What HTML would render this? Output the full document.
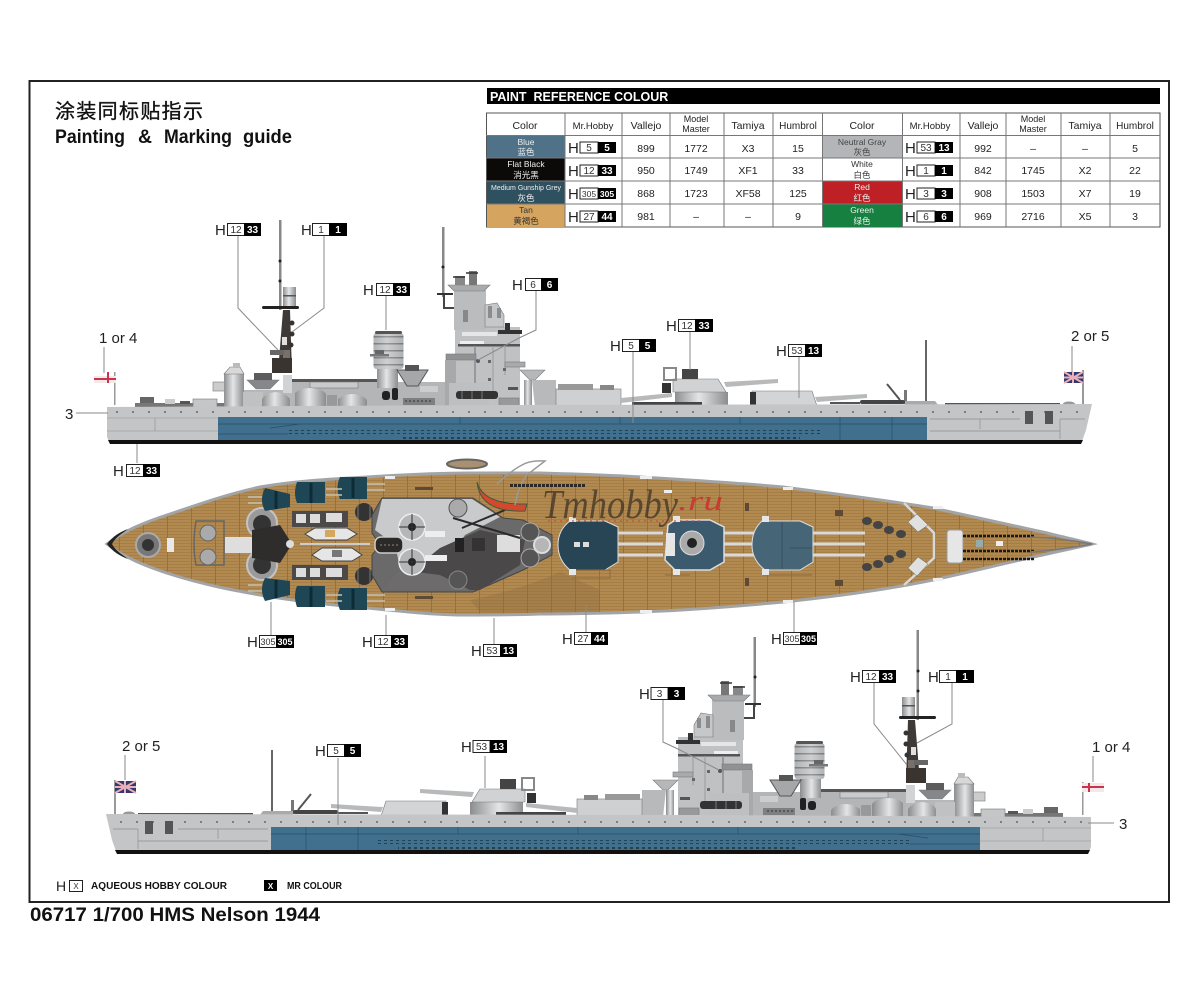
<!DOCTYPE html>
<html><head><meta charset="utf-8"><style>
html,body{margin:0;padding:0;background:#fff}
svg{display:block}
text{font-family:"Liberation Sans","Noto Sans CJK SC",sans-serif;fill:#111}
.h{font-size:15px;fill:#222}
.w{font-size:10px;fill:#333;text-anchor:middle}
.b{font-size:10px;fill:#fff;font-weight:bold;text-anchor:middle}
.c{font-size:10.5px;text-anchor:middle;fill:#222}
.s{font-size:9px;text-anchor:middle;fill:#222}
.t{font-size:8.5px;text-anchor:middle;fill:#eee}
.n{font-size:15px;fill:#222}
.l{stroke:#8a8a8a;stroke-width:1;fill:none}
.o{stroke:#77797b;stroke-width:.6}
</style></head><body>
<svg width="1200" height="982" viewBox="0 0 1200 982" xmlns="http://www.w3.org/2000/svg">
<defs>
<pattern id="plank" width="24" height="3" patternUnits="userSpaceOnUse"><rect width="24" height="3" fill="#b28a50"/><rect width="24" height="1" fill="#a57d47"/><rect x="23" width="1" height="3" fill="#927040"/></pattern>
<pattern id="port" width="6" height="4" patternUnits="userSpaceOnUse"><rect width="6" height="4" fill="#41708f"/><rect x="1" y="1" width="3" height="2" fill="#25404f"/></pattern>
<pattern id="dot" width="16" height="12" patternUnits="userSpaceOnUse"><circle cx="5" cy="4" r="1" fill="#666"/></pattern>
<pattern id="stripes" width="4" height="7" patternUnits="userSpaceOnUse"><rect width="4" height="7" fill="#c2c4c6"/><rect width="4" height="1.500" fill="#6c6f72"/></pattern>
<linearGradient id="cyl" x1="0" x2="1" y1="0" y2="0"><stop offset="0" stop-color="#8d8f91"/><stop offset=".45" stop-color="#e4e5e6"/><stop offset="1" stop-color="#8a8c8e"/></linearGradient>
<g id="ship">
  <!-- masts -->
  <rect x="279" y="220" width="2.500" height="90" fill="#888"/>
  <circle cx="280" cy="261" r="1.500" fill="#222"/><circle cx="280" cy="281" r="1.500" fill="#222"/>
  <rect x="442" y="227" width="2.500" height="70" fill="#888"/>
  <circle cx="443" cy="267" r="1.500" fill="#222"/>
  <rect x="925" y="340" width="2" height="62" fill="#666"/>
  <path d="M887,384L900,400" stroke="#555" stroke-width="2"/>
  <rect x="904" y="390" width="3" height="14" fill="#777"/>
  <rect x="437" y="293" width="16" height="2" fill="#333"/>
  <path d="M444,295V308H454" stroke="#444" stroke-width="2" fill="none"/>
  <!-- aft low deck -->
  <rect x="135" y="403" width="90" height="4" fill="#777"/>
  <rect x="140" y="397" width="14" height="6" fill="#666"/>
  <rect x="165" y="399" width="10" height="5" fill="#ccc"/>
  <rect x="180" y="401" width="10" height="3" fill="#555"/>
  <rect x="193" y="399" width="24" height="8" fill="#c4c6c8" class="o"/>
  <!-- base fill -->
  <rect x="226" y="390" width="230" height="17" fill="#b5b7b9"/>
  <rect x="213" y="382" width="12" height="9" fill="#ccc" class="o"/>
  <rect x="224" y="373" width="20" height="34" fill="url(#cyl)"/>
  <path d="M224,374L230,367H240L244,374Z" fill="#d8d8d8" class="o"/>
  <rect x="233" y="363" width="7" height="5" fill="#bbb"/>
  <path d="M247,380H279L270,389H256Z" fill="#85878a" class="o"/>
  <rect x="254" y="373" width="18" height="7" fill="#5c5c5c"/>
  <rect x="243" y="392" width="20" height="15" fill="#bfc1c3"/>
  <path d="M262,408V399Q265,393 276,392Q286,393 290,399V408Z" fill="url(#cyl)"/>
  <rect x="283" y="375" width="9" height="18" fill="#d2d3d4"/>
  <!-- tripod -->
  <path d="M278,372L283,310H290L292,372Z" fill="#3d3a38"/>
  <path d="M283,350H290V370H283Z" fill="#776f68"/>
  <rect x="270" y="350" width="14" height="5" fill="#666"/>
  <rect x="272" y="358" width="20" height="15" fill="#3a3431"/>
  <rect x="282" y="337" width="5" height="8" fill="#e0e0e0"/>
  <circle cx="292" cy="323" r="2.500" fill="#333"/><circle cx="292" cy="334" r="2.500" fill="#333"/><circle cx="291" cy="345" r="2.500" fill="#333"/>
  <rect x="283" y="287" width="13" height="19" fill="url(#cyl)"/>
  <rect x="283" y="295" width="13" height="1.500" fill="#555"/>
  <rect x="262" y="306" width="37" height="3" rx="1.500" fill="#222"/>
  <!-- main deck structures -->
  <rect x="292" y="382" width="170" height="25" fill="#b3b5b7"/>
  <rect x="292" y="379" width="90" height="3" fill="#555"/>
  <rect x="310" y="382" width="48" height="6" fill="#c9cacc" class="o"/>
  <path d="M295,408V393Q300,388 310,388Q322,388 326,394V408Z" fill="url(#cyl)"/>
  <path d="M338,408V399Q345,394 352,394Q362,394 367,400V408Z" fill="url(#cyl)"/>
  <rect x="327" y="395" width="10" height="12" fill="#97999b"/>
  <!-- funnel -->
  <rect x="377" y="368" width="21" height="20" fill="url(#cyl)"/>
  <rect x="373.500" y="333" width="30" height="36" rx="3" fill="url(#stripes)"/>
  <rect x="373.500" y="333" width="30" height="36" rx="3" fill="url(#cyl)" opacity=".35"/>
  <rect x="375" y="331" width="27" height="3" rx="1.500" fill="#555"/>
  <rect x="370" y="354" width="19" height="2.500" fill="#777"/>
  <rect x="375" y="350" width="9" height="4" fill="#666"/>
  <path d="M397,370H428L418,386H407Z" fill="#a5a7a9" stroke="#555"/>
  <rect x="405" y="365" width="14" height="6" fill="#555"/>
  <rect x="382" y="391" width="8" height="9" rx="3" fill="#222"/>
  <rect x="392" y="388" width="6" height="12" rx="2" fill="#222"/>
  <rect x="403" y="398" width="32" height="7" fill="#7d7f81"/>
  <path d="M405,401h28" stroke="#333" stroke-dasharray="2 2"/>
  <rect x="420" y="386" width="18" height="6" fill="#cdcdcd"/>
  <!-- tower -->
  <rect x="455" y="327" width="65" height="80" fill="#bfc1c3"/>
  <rect x="454" y="290" width="32" height="40" fill="#babcbe"/>
  <path d="M448,285H490L484,291H454Z" fill="#a8aaac" class="o"/>
  <rect x="455" y="276" width="10" height="9" fill="#888"/>
  <rect x="469" y="271" width="8" height="14" fill="#777"/>
  <path d="M453,277h12M466,273h12" stroke="#333" stroke-width="1.500"/>
  <path d="M485,327V305L497,303L504,315V327Z" fill="#c5c7c9" class="o"/>
  <path d="M488,306h4v12h-4zM497,308h4v10h-4z" fill="#8a8c8e"/>
  <rect x="498" y="330" width="24" height="4" fill="#333"/>
  <rect x="505" y="323" width="5" height="8" fill="#333"/>
  <rect x="462" y="332" width="35" height="4" fill="#e6e6e6"/>
  <rect x="460" y="341" width="24" height="3" fill="#eee"/>
  <rect x="458" y="344" width="62" height="2.500" fill="#555"/>
  <rect x="463" y="310" width="5" height="12" fill="#888"/>
  <rect x="474" y="346" width="2" height="60" fill="#999"/>
  <path d="M493,346V395M505,346V375" stroke="#9a9c9e" stroke-width="1"/>
  <g fill="#666"><rect x="508" y="362" width="2" height="2"/><rect x="513" y="362" width="2" height="2"/><rect x="488" y="360" width="3" height="3"/><rect x="488" y="378" width="3" height="3"/><rect x="503" y="368" width="3" height="3"/></g>
  <rect x="446" y="354" width="30" height="6" fill="#8f9193" class="o"/>
  <rect x="445" y="360" width="11" height="47" fill="#a7a9ab"/>
  <rect x="449" y="383" width="40" height="24" fill="#bdbfc1"/>
  <rect x="456" y="391" width="42" height="8" rx="3" fill="#333"/>
  <path d="M462,391v8M472,391v8M482,391v8" stroke="#777"/>
  <rect x="505" y="362" width="20" height="5" fill="#aaa" class="o"/>
  <path d="M520,370H545L535,380H530Z" fill="#b5b7b9" class="o"/>
  <rect x="524" y="380" width="8" height="27" fill="url(#cyl)"/>
  <path d="M532,380H556V407H535Z" fill="#b7b9bb"/>
  <rect x="508" y="387" width="10" height="3" fill="#555"/>
  <rect x="499" y="398" width="20" height="8" fill="#999" class="o"/>
  <circle cx="478" cy="361" r="2" fill="#556"/>
  <!-- X turret -->
  <rect x="556" y="389" width="65" height="18" fill="#ced0d2" class="o"/>
  <rect x="558" y="384" width="35" height="6" fill="#999"/>
  <rect x="600" y="385" width="14" height="5" fill="#888"/>
  <path d="M621,398L672,393V397L621,403Z" fill="#b7b9bb"/>
  <!-- A turret -->
  <rect x="675" y="392" width="53" height="15" fill="url(#cyl)"/>
  <path d="M673,379H718L726,392H673Z" fill="#d0d2d4" class="o"/>
  <rect x="662" y="383" width="9" height="10" fill="#333"/>
  <rect x="664" y="368" width="12" height="12" fill="none" stroke="#888" stroke-width="2"/>
  <rect x="682" y="369" width="16" height="10" fill="#444"/>
  <path d="M724,382L778,379V383L726,387Z" fill="#b7b9bb"/>
  <!-- B turret -->
  <path d="M752,391H812L817,406H752Z" fill="#d2d4d6" class="o"/>
  <rect x="750" y="392" width="6" height="13" fill="#333"/>
  <path d="M815,397L867,394V398L817,402Z" fill="#b7b9bb"/>
  <!-- fore deck -->
  <rect x="632" y="402" width="70" height="3" fill="#444"/>
  <rect x="830" y="402" width="30" height="2" fill="#555"/>
  <rect x="860" y="400" width="45" height="4" rx="2" fill="#444"/>
  <path d="M905,401H935L939,406H905Z" fill="#aaa"/>
  <rect x="945" y="403" width="115" height="2" fill="#555"/>
  <ellipse cx="1069" cy="404" rx="6" ry="2.500" fill="#999"/>
  <!-- hull -->
  <path d="M107,407L500,405L1092,404L1086,430L1081,444H110L107,437Z" fill="#c3c5c7"/>
  <rect x="109" y="405" width="975" height="12" fill="url(#dot)"/>
  <rect x="218" y="417" width="709" height="24" fill="#41708f"/>
  <rect x="288" y="430" width="535" height="4" fill="url(#port)"/>
  <rect x="400" y="436" width="400" height="4" fill="url(#port)"/>
  <path d="M218,424H927M218,434H288M460,417V424M620,417V424M740,417V424M840,417V440M892,417V440M270,428L300,424" stroke="#2b4d66" stroke-width=".7" fill="none"/>
  <path d="M107,418H218M155,418V431M107,431H218" stroke="#8d8f91" stroke-width=".6" fill="none"/>
  <path d="M930,419H1020M980,419V429M930,431H1060M1060,419H1085M1060,419V439" stroke="#8d8f91" stroke-width=".7" fill="none"/>
  <rect x="1025" y="411" width="8" height="13" fill="#555"/><rect x="1045" y="411" width="8" height="13" fill="#555"/>
  <path d="M108,440H1083L1081,444H110Z" fill="#111"/>
</g>
</defs>

<rect width="1200" height="982" fill="#fff"/>
<rect x="29.500" y="81" width="1139.500" height="821" fill="none" stroke="#222" stroke-width="2"/>

<text x="55" y="118" font-size="20" textLength="148" lengthAdjust="spacing" stroke="#111" stroke-width=".35">涂装同标贴指示</text>
<g font-weight="bold" font-size="19"><text x="55" y="143" textLength="70" lengthAdjust="spacingAndGlyphs">Painting</text><text x="138" y="143" textLength="14" lengthAdjust="spacingAndGlyphs">&amp;</text><text x="164" y="143" textLength="68" lengthAdjust="spacingAndGlyphs">Marking</text><text x="243" y="143" textLength="49" lengthAdjust="spacingAndGlyphs">guide</text></g>

<!-- table -->
<rect x="487" y="88" width="673" height="16" fill="#000"/>
<text x="490" y="101" font-size="12.500" font-weight="bold" style="fill:#fff" xml:space="preserve">PAINT  REFERENCE COLOUR</text>
<rect x="486.500" y="113" width="673.500" height="114" fill="#fff" stroke="#555"/>
<rect x="487" y="136" width="78" height="22" fill="#4f7288"/>
<rect x="487" y="158" width="78" height="23" fill="#0c0a08"/>
<rect x="487" y="181" width="78" height="23" fill="#2f505f"/>
<rect x="487" y="204" width="78" height="23" fill="#d5a560"/>
<rect x="822.500" y="136" width="80" height="22" fill="#b3b5b8"/>
<rect x="822.500" y="181" width="80" height="23" fill="#be2026"/>
<rect x="822.500" y="204" width="80" height="23" fill="#15803f"/>
<path d="M565,113V227M622,113V227M670,113V227M724,113V227M773,113V227M822.500,113V227M902.500,113V227M960,113V227M1006,113V227M1061,113V227M1110,113V227M486,135.500H1160M486,158H1160M486,181H1160M486,204H1160" stroke="#777" stroke-width="1" fill="none"/>
<text class="c" x="525" y="129">Color</text><text class="c" x="593" y="129" style="font-size:9.500px">Mr.Hobby</text><text class="c" x="646" y="129">Vallejo</text>
<text class="s" x="696" y="122">Model</text><text class="s" x="696" y="132">Master</text>
<text class="c" x="748" y="129">Tamiya</text><text class="c" x="798" y="129" style="font-size:10px">Humbrol</text>
<text class="c" x="862" y="129">Color</text><text class="c" x="930" y="129" style="font-size:9.500px">Mr.Hobby</text><text class="c" x="983" y="129">Vallejo</text>
<text class="s" x="1033" y="122">Model</text><text class="s" x="1033" y="132">Master</text>
<text class="c" x="1085" y="129">Tamiya</text><text class="c" x="1135" y="129" style="font-size:10px">Humbrol</text>
<text class="t" x="526" y="145">Blue</text><text class="t" x="526" y="155">蓝色</text>
<text class="t" x="526" y="167">Flat Black</text><text class="t" x="526" y="178">消光黑</text>
<text class="t" x="526" y="190" style="font-size:7px">Medium Gunship Grey</text><text class="t" x="526" y="201">灰色</text>
<text class="t" x="526" y="213" style="fill:#333">Tan</text><text class="t" x="526" y="224" style="fill:#333">黄褐色</text>
<text class="t" x="862" y="145" style="fill:#444">Neutral Gray</text><text class="t" x="862" y="155" style="fill:#444">灰色</text>
<text class="t" x="862" y="167" style="fill:#333">White</text><text class="t" x="862" y="178" style="fill:#333">白色</text>
<text class="t" x="862" y="190">Red</text><text class="t" x="862" y="201">红色</text>
<text class="t" x="862" y="213">Green</text><text class="t" x="862" y="224">绿色</text>

<g id="tc">
<text class="c" x="646" y="152">899</text><text class="c" x="696" y="152">1772</text><text class="c" x="748" y="152">X3</text><text class="c" x="798" y="152">15</text>
<text class="c" x="646" y="174">950</text><text class="c" x="696" y="174">1749</text><text class="c" x="748" y="174">XF1</text><text class="c" x="798" y="174">33</text>
<text class="c" x="646" y="197">868</text><text class="c" x="696" y="197">1723</text><text class="c" x="748" y="197">XF58</text><text class="c" x="798" y="197">125</text>
<text class="c" x="646" y="220">981</text><text class="c" x="696" y="220">–</text><text class="c" x="748" y="220">–</text><text class="c" x="798" y="220">9</text>
<text class="c" x="983" y="152">992</text><text class="c" x="1033" y="152">–</text><text class="c" x="1085" y="152">–</text><text class="c" x="1135" y="152">5</text>
<text class="c" x="983" y="174">842</text><text class="c" x="1033" y="174">1745</text><text class="c" x="1085" y="174">X2</text><text class="c" x="1135" y="174">22</text>
<text class="c" x="983" y="197">908</text><text class="c" x="1033" y="197">1503</text><text class="c" x="1085" y="197">X7</text><text class="c" x="1135" y="197">19</text>
<text class="c" x="983" y="220">969</text><text class="c" x="1033" y="220">2716</text><text class="c" x="1085" y="220">X5</text><text class="c" x="1135" y="220">3</text>
</g>
<!-- table paint codes -->
<text class="h" x="568" y="153">H</text><rect x="580" y="142" width="18" height="11" fill="#fff" stroke="#222"/><rect x="598" y="142" width="18" height="11" fill="#000"/><text class="w" x="589" y="151">5</text><text class="b" x="607" y="151">5</text>
<text class="h" x="568" y="176">H</text><rect x="580" y="165" width="18" height="11" fill="#fff" stroke="#222"/><rect x="598" y="165" width="18" height="11" fill="#000"/><text class="w" x="589" y="174">12</text><text class="b" x="607" y="174">33</text>
<text class="h" x="568" y="199">H</text><rect x="580" y="188" width="18" height="11" fill="#fff" stroke="#222"/><rect x="598" y="188" width="18" height="11" fill="#000"/><text class="w" x="589" y="197" style="font-size:8.500px">305</text><text class="b" x="607" y="197" style="font-size:8.500px">305</text>
<text class="h" x="568" y="222">H</text><rect x="580" y="211" width="18" height="11" fill="#fff" stroke="#222"/><rect x="598" y="211" width="18" height="11" fill="#000"/><text class="w" x="589" y="220">27</text><text class="b" x="607" y="220">44</text>
<text class="h" x="905" y="153">H</text><rect x="917" y="142" width="18" height="11" fill="#fff" stroke="#222"/><rect x="935" y="142" width="18" height="11" fill="#000"/><text class="w" x="926" y="151">53</text><text class="b" x="944" y="151">13</text>
<text class="h" x="905" y="176">H</text><rect x="917" y="165" width="18" height="11" fill="#fff" stroke="#222"/><rect x="935" y="165" width="18" height="11" fill="#000"/><text class="w" x="926" y="174">1</text><text class="b" x="944" y="174">1</text>
<text class="h" x="905" y="199">H</text><rect x="917" y="188" width="18" height="11" fill="#fff" stroke="#222"/><rect x="935" y="188" width="18" height="11" fill="#000"/><text class="w" x="926" y="197">3</text><text class="b" x="944" y="197">3</text>
<text class="h" x="905" y="222">H</text><rect x="917" y="211" width="18" height="11" fill="#fff" stroke="#222"/><rect x="935" y="211" width="18" height="11" fill="#000"/><text class="w" x="926" y="220">6</text><text class="b" x="944" y="220">6</text>

<!-- ships -->
<use href="#ship"/>
<use href="#ship" transform="matrix(-1 0 0 1 1198 410)"/>

<!-- flags -->
<rect x="114" y="372" width="1.500" height="33" fill="#999"/>
<path d="M94,376H116V383H94Z" fill="#f4e8e8"/><path d="M94,379H116M108,372V383" stroke="#c9344c" stroke-width="2"/>
<rect x="1082" y="370" width="2" height="34" fill="#999"/>
<rect x="1064" y="372" width="19" height="11" fill="#34386f"/><path d="M1064,372L1083,383M1083,372L1064,383M1073,372V383M1064,377.500H1083" stroke="#e8b0b8" stroke-width="2"/>
<rect x="114" y="780" width="2" height="34" fill="#999"/>
<rect x="115" y="781" width="21" height="12" fill="#34386f"/><path d="M115,781L136,793M136,781L115,793M125,781V793M115,787H136" stroke="#e8b0b8" stroke-width="2"/>
<rect x="1082" y="782" width="1.500" height="33" fill="#999"/>
<path d="M1082,783H1104V792H1082Z" fill="#f4e8e8"/><path d="M1082,787H1104M1089,783V792" stroke="#c9344c" stroke-width="2"/>

<!-- top view -->
<path id="hullt" d="M107,544C125,530 145,522 173,513C205,502 232,493 260,487C295,481 330,479 367,477C400,475 435,473 467,473C500,473 520,473 540,473C575,474 610,475 640,477C690,480 740,483 783,487C830,493 885,500 933,508C970,516 1010,525 1047,533C1062,537 1078,540 1092,544C1075,548 1060,551 1047,554C1010,562 970,572 933,580C885,590 830,597 783,602C730,607 690,610 640,612C610,613 575,614 540,614C515,615 490,615 467,615C430,615 400,611 367,608C330,605 295,601 260,595C232,590 205,585 173,575C145,566 125,558 107,544Z" fill="url(#plank)" stroke="#a2a4a6" stroke-width="3"/>
<path d="M107,544C113,536 120,532 128,529L124,532C118,536 114,540 112,544C114,548 118,552 124,556L128,559C120,556 113,552 107,544Z" fill="#222"/>
<ellipse cx="467" cy="464" rx="20" ry="4.500" fill="#a89070" stroke="#666" stroke-width="2"/>
<!-- stern -->
<circle cx="148" cy="545" r="12" fill="#777" stroke="#aaa" stroke-width="2"/><circle cx="148" cy="545" r="6" fill="#333"/>
<rect x="167" y="538" width="7" height="14" fill="#e8e8e8"/>
<path d="M196,521H224V565H196Q192,545 196,521Z" fill="none" stroke="#666" stroke-width="1.500"/>
<circle cx="208" cy="533" r="8" fill="#aaa" stroke="#666"/><circle cx="208" cy="557" r="8" fill="#aaa" stroke="#666"/>
<rect x="225" y="537" width="42" height="16" fill="#dedede"/>
<circle cx="262" cy="523" r="15" fill="#9a9a9a" stroke="#c4c4c4" stroke-width="2"/><circle cx="262" cy="565" r="15" fill="#9a9a9a" stroke="#c4c4c4" stroke-width="2"/>
<circle cx="262" cy="524" r="9" fill="#333"/><circle cx="262" cy="565" r="9" fill="#333"/>
<path d="M252,530L280,525L292,544L280,563L252,558Z" fill="#2f2d2c"/>
<circle cx="290" cy="544" r="4" fill="#ddd"/>
<!-- secondary turrets -->
<g fill="#1f4654">
<path d="M265,488L290,494V507L265,511Q259,500 265,488Z"/><path d="M297,482H325V503H297Q293,493 297,482Z"/><path d="M340,477H367V499H340Q335,488 340,477Z"/>
<path d="M265,578L290,581V595L265,601Q259,590 265,578Z"/><path d="M297,586H325V607H297Q293,596 297,586Z"/><path d="M340,588H367V610H340Q335,599 340,588Z"/>
</g>
<path d="M311,483v20M353,478v20M276,491v18M311,587v20M353,589v20M276,580v18" stroke="#0f2c36" stroke-width="3"/>
<path d="M248,497H262M248,503H262M326,489H342M326,495H342M367,484H385M367,490H385M248,585H262M248,591H262M326,595H342M326,601H342M367,595H385M367,601H385" stroke="#c8c0b0" stroke-width="1.500"/>
<!-- boats -->
<rect x="292" y="511" width="56" height="16" fill="#4c4a48"/><rect x="296" y="514" width="10" height="9" fill="#ddd"/><rect x="310" y="514" width="10" height="9" fill="#ddd"/><rect x="326" y="513" width="16" height="9" fill="#ddd"/>
<rect x="292" y="565" width="56" height="15" fill="#4c4a48"/><rect x="296" y="568" width="10" height="9" fill="#ddd"/><rect x="310" y="568" width="10" height="9" fill="#ddd"/><rect x="326" y="568" width="16" height="9" fill="#ddd"/>
<path d="M305,534L315,528H347L357,534L347,540H315Z" fill="#e6e6e6" stroke="#444"/><rect x="325" y="530" width="10" height="7" fill="#d2a860"/>
<path d="M312,555L322,548H352L362,555L352,561H322Z" fill="#e6e6e6" stroke="#444"/><rect x="332" y="550" width="10" height="7" fill="#777"/>
<rect x="300" y="543" width="70" height="2" fill="#ccc"/>
<circle cx="364" cy="512" r="9" fill="#333"/><circle cx="364" cy="576" r="9" fill="#333"/>
<path d="M358,505v14M370,505v14M358,569v14M370,569v14" stroke="#777"/>
<!-- central superstructure -->
<path d="M372,515L382,498H473L503,518L523,520L552,535V555L523,570L505,578L473,592H382L372,575V555L380,545L372,533Z" fill="#6b6a6a" stroke="#444"/>
<path d="M382,499H472L500,517L465,535L450,560L440,585L405,590L395,545L375,530Z" fill="#d4d5d7" opacity=".9"/>
<path d="M440,548L480,530L525,540L520,565L480,590H415L410,572Z" fill="#4a4848"/>
<path d="M382,590L400,570L440,575L470,590Z" fill="#6d6b6b"/>
<rect x="375" y="537" width="28" height="16" rx="6" fill="#2b2a29" stroke="#ccc" stroke-width="1.500"/>
<path d="M380,545h18" stroke="#888" stroke-dasharray="2 2"/>
<circle cx="412" cy="527" r="13" fill="#b5b6b8" stroke="#eee" stroke-width="1.500"/><circle cx="412" cy="527" r="4" fill="#222"/><path d="M399,527H425M412,514V540" stroke="#333"/>
<circle cx="412" cy="562" r="13" fill="#b5b6b8" stroke="#eee" stroke-width="1.500"/><circle cx="412" cy="562" r="4" fill="#222"/><path d="M399,562H425M412,549V575" stroke="#333"/>
<circle cx="458" cy="508" r="9" fill="#aaa" stroke="#555"/><circle cx="458" cy="580" r="9" fill="#555" stroke="#888"/>
<rect x="455" y="538" width="9" height="14" fill="#222"/><rect x="472" y="538" width="13" height="13" fill="#333"/>
<rect x="497" y="535" width="23" height="17" fill="#ddd"/>
<path d="M453,518L520,538M462,528L505,510" stroke="#2a2a2a" stroke-width="2"/>
<rect x="425" y="531" width="20" height="6" fill="#eee"/><rect x="425" y="555" width="22" height="6" fill="#eee"/>
<circle cx="530" cy="532" r="9" fill="#555" stroke="#aaa"/><circle cx="530" cy="558" r="9" fill="#555" stroke="#aaa"/>
<circle cx="542" cy="545" r="8" fill="#b5b6b8" stroke="#ddd" stroke-width="2"/>
<path d="M470,600Q520,590 560,572L600,590V612H480Z" fill="#8c6a3c" opacity=".35"/>
<!-- main turrets -->
<path d="M618,533H663M618,544H663M618,555H663M724,533H778M724,544H778M724,555H778M813,533H865M813,544H865M813,555H865" stroke="#d9d9d9" stroke-width="3"/>
<path d="M570,521H605L618,527V562L605,570H570Q558,560 558,545Q558,530 570,521Z" fill="#274554" stroke="#ddd" stroke-width="1"/>
<rect x="574" y="542" width="6" height="5" fill="#ddd"/><rect x="583" y="542" width="6" height="5" fill="#ddd"/>
<path d="M668,525L675,520H710L724,527V562L710,570H675L665,560Z" fill="#3b5a6d" stroke="#ddd" stroke-width="1.500"/>
<rect x="666" y="533" width="9" height="23" fill="#e6e6e6"/>
<circle cx="692" cy="543" r="12" fill="#aaa" stroke="#ddd"/><circle cx="692" cy="543" r="5" fill="#222"/>
<path d="M762,521H800L813,527V562L800,570H765Q752,560 752,545Q752,530 762,521Z" fill="#466678" stroke="#ddd" stroke-width="1"/>
<path d="M782,522V569M790,548L812,548" stroke="#35505f" stroke-width="1"/>
<path d="M572,570H610V578H572M763,575H812M665,575H690" stroke="#8c6a3c" stroke-width="1" fill="none"/>
<rect x="569" y="517" width="7" height="5" fill="#e6e6e6"/><rect x="673" y="516" width="7" height="6" fill="#e6e6e6"/><rect x="762" y="516" width="7" height="6" fill="#e6e6e6"/>
<rect x="569" y="569" width="7" height="6" fill="#e6e6e6"/><rect x="673" y="569" width="7" height="6" fill="#e6e6e6"/><rect x="762" y="569" width="7" height="6" fill="#e6e6e6"/>
<!-- forward fittings -->
<g fill="#444"><ellipse cx="867" cy="521" rx="5" ry="4"/><ellipse cx="878" cy="525" rx="5" ry="4"/><ellipse cx="889" cy="530" rx="5" ry="4"/><ellipse cx="901" cy="534" rx="5" ry="4"/><ellipse cx="867" cy="567" rx="5" ry="4"/><ellipse cx="878" cy="564" rx="5" ry="4"/><ellipse cx="889" cy="559" rx="5" ry="4"/><ellipse cx="901" cy="554" rx="5" ry="4"/></g>
<path d="M904,503L934,533V558L904,585" fill="none" stroke="#d8d8d8" stroke-width="2.500"/>
<path d="M917,514L928,525L918,532L908,522Z" fill="#e0e0e0" stroke="#666" stroke-width=".5"/>
<path d="M918,557L928,564L917,576L908,568Z" fill="#e0e0e0" stroke="#666" stroke-width=".5"/>
<rect x="947" y="530" width="16" height="33" rx="3" fill="#e6e6e6" stroke="#999"/>
<path d="M963,536H1035M963,551H1035M963,559H1035" stroke="#1c1a18" stroke-width="2.500" stroke-dasharray="3 1"/>
<rect x="976" y="540" width="7" height="7" fill="#9aa"/><rect x="996" y="541" width="7" height="5" fill="#eee"/>
<path d="M1030,537Q1060,538 1092,544Q1060,550 1030,552" fill="none" stroke="#777" stroke-width="1.500"/>
<g fill="#eee"><rect x="664" y="490" width="8" height="3"/><rect x="783" y="487" width="10" height="3"/><rect x="933" y="506" width="10" height="3"/><rect x="783" y="600" width="10" height="3"/><rect x="933" y="578" width="10" height="3"/><rect x="640" y="476" width="12" height="3"/><rect x="640" y="610" width="12" height="3"/><rect x="385" y="476" width="10" height="3"/><rect x="385" y="608" width="10" height="3"/></g>
<g fill="#5c4a34"><rect x="415" y="487" width="18" height="3"/><rect x="415" y="596" width="18" height="3"/><rect x="745" y="503" width="4" height="8"/><rect x="745" y="578" width="4" height="8"/><rect x="835" y="510" width="8" height="6"/><rect x="835" y="580" width="8" height="6"/></g>
<!-- watermark -->
<path d="M477,482Q483,505 527,504L525,511Q480,513 477,482Z" fill="#d5482e" stroke="#3a5c3a" stroke-width="1"/>
<path d="M497,484Q512,470 522,465Q530,460 545,461L532,471Q520,478 515,505" fill="none" stroke="#999" stroke-width="1.500"/>
<path d="M510,485.500H586" stroke="#2d2a26" stroke-width="3" stroke-dasharray="3 1"/>
<text x="542" y="518" font-size="41" font-style="italic" opacity=".72" style="font-family:'Liberation Serif',serif;fill:#3a3026" textLength="136" lengthAdjust="spacingAndGlyphs">Tmhobby</text>
<text x="678" y="510" font-size="29" font-style="italic" opacity=".85" style="font-family:'Liberation Serif',serif;fill:#cf2f2f" textLength="45" lengthAdjust="spacingAndGlyphs">.ru</text>
<path d="M548,521H700" stroke="#c8443a" stroke-width="1.500" stroke-dasharray="2 4" opacity=".7"/>

<!-- leaders -->
<path class="l" d="M238,235V308L278,350M324,236V308L292,332M386,296V330M536,291V330L519,338L478,360M633,352V423M690,332V370M799,357V398M1072,346V372M104,347V373M76,413H108M137,444V463M271,602V635M386,615V635M494,618V644M586,605V632M794,602V632M663,700V742L678,749L719,770M874,683V724L907,765M952,683V724L917,743M1093,756V782M1088,823H1114M338,758V825M485,756V788M125,755V780"/>

<!-- callouts -->
<text class="h" x="215" y="235">H</text><rect x="227.500" y="223.500" width="17" height="12" fill="#fff" stroke="#222"/><rect x="244" y="223" width="17" height="13" fill="#000"/><text class="w" x="236" y="233">12</text><text class="b" x="252.500" y="233">33</text>
<text class="h" x="301" y="235">H</text><rect x="312.500" y="223.500" width="17" height="12" fill="#fff" stroke="#222"/><rect x="329" y="223" width="18" height="13" fill="#000"/><text class="w" x="321" y="233">1</text><text class="b" x="338" y="233">1</text>
<text class="h" x="363" y="295">H</text><rect x="376.500" y="283.500" width="17" height="12" fill="#fff" stroke="#222"/><rect x="393" y="283" width="17" height="13" fill="#000"/><text class="w" x="385" y="293">12</text><text class="b" x="401.500" y="293">33</text>
<text class="h" x="512" y="290">H</text><rect x="525.500" y="278.500" width="16" height="12" fill="#fff" stroke="#222"/><rect x="541" y="278" width="17" height="13" fill="#000"/><text class="w" x="533" y="288">6</text><text class="b" x="549.500" y="288">6</text>
<text class="h" x="610" y="351">H</text><rect x="622.500" y="339.500" width="17" height="12" fill="#fff" stroke="#222"/><rect x="639" y="339" width="17" height="13" fill="#000"/><text class="w" x="631" y="349">5</text><text class="b" x="647.500" y="349">5</text>
<text class="h" x="666" y="331">H</text><rect x="678.500" y="319.500" width="17" height="12" fill="#fff" stroke="#222"/><rect x="695" y="319" width="18" height="13" fill="#000"/><text class="w" x="687" y="329">12</text><text class="b" x="704" y="329">33</text>
<text class="h" x="776" y="356">H</text><rect x="788.500" y="344.500" width="17" height="12" fill="#fff" stroke="#222"/><rect x="805" y="344" width="17" height="13" fill="#000"/><text class="w" x="797" y="354">53</text><text class="b" x="813.500" y="354">13</text>
<text class="h" x="113" y="476">H</text><rect x="126.500" y="464.500" width="17" height="12" fill="#fff" stroke="#222"/><rect x="143" y="464" width="17" height="13" fill="#000"/><text class="w" x="135" y="474">12</text><text class="b" x="151.500" y="474">33</text>
<text class="h" x="247" y="647">H</text><rect x="259.500" y="635.500" width="17" height="12" fill="#fff" stroke="#222"/><rect x="276" y="635" width="18" height="13" fill="#000"/><text class="w" x="268" y="645" style="font-size:9px">305</text><text class="b" x="285" y="645" style="font-size:9px">305</text>
<text class="h" x="362" y="647">H</text><rect x="374.500" y="635.500" width="17" height="12" fill="#fff" stroke="#222"/><rect x="391" y="635" width="17" height="13" fill="#000"/><text class="w" x="383" y="645">12</text><text class="b" x="399.500" y="645">33</text>
<text class="h" x="471" y="656">H</text><rect x="483.500" y="644.500" width="17" height="12" fill="#fff" stroke="#222"/><rect x="500" y="644" width="17" height="13" fill="#000"/><text class="w" x="492" y="654">53</text><text class="b" x="508.500" y="654">13</text>
<text class="h" x="562" y="644">H</text><rect x="574.500" y="632.500" width="17" height="12" fill="#fff" stroke="#222"/><rect x="591" y="632" width="17" height="13" fill="#000"/><text class="w" x="583" y="642">27</text><text class="b" x="599.500" y="642">44</text>
<text class="h" x="771" y="644">H</text><rect x="783.500" y="632.500" width="17" height="12" fill="#fff" stroke="#222"/><rect x="800" y="632" width="17" height="13" fill="#000"/><text class="w" x="792" y="642" style="font-size:9px">305</text><text class="b" x="808.500" y="642" style="font-size:9px">305</text>
<text class="h" x="639" y="699">H</text><rect x="651" y="687.500" width="17" height="12" fill="#fff" stroke="#222"/><rect x="668" y="687" width="17" height="13" fill="#000"/><text class="w" x="659.500" y="697">3</text><text class="b" x="676.500" y="697">3</text>
<text class="h" x="850" y="682">H</text><rect x="862.500" y="670.500" width="17" height="12" fill="#fff" stroke="#222"/><rect x="879" y="670" width="17" height="13" fill="#000"/><text class="w" x="871" y="680">12</text><text class="b" x="887.500" y="680">33</text>
<text class="h" x="928" y="682">H</text><rect x="939.500" y="670.500" width="17" height="12" fill="#fff" stroke="#222"/><rect x="956" y="670" width="18" height="13" fill="#000"/><text class="w" x="948" y="680">1</text><text class="b" x="965" y="680">1</text>
<text class="h" x="315" y="756">H</text><rect x="327.500" y="744.500" width="17" height="12" fill="#fff" stroke="#222"/><rect x="344" y="744" width="17" height="13" fill="#000"/><text class="w" x="336" y="754">5</text><text class="b" x="352.500" y="754">5</text>
<text class="h" x="461" y="752">H</text><rect x="473" y="740.500" width="17" height="12" fill="#fff" stroke="#222"/><rect x="490" y="740" width="17" height="13" fill="#000"/><text class="w" x="481.500" y="750">53</text><text class="b" x="498.500" y="750">13</text>

<text class="n" x="99" y="343">1 or 4</text><text class="n" x="1071" y="341">2 or 5</text><text class="n" x="65" y="419">3</text>
<text class="n" x="122" y="751">2 or 5</text><text class="n" x="1092" y="752">1 or 4</text><text class="n" x="1119" y="829">3</text>

<!-- legend -->
<text class="h" x="56" y="891" style="font-size:14px">H</text><rect x="69.500" y="880.500" width="13" height="11" fill="#fff" stroke="#222"/><text class="w" x="76" y="889" style="font-size:8px">X</text>
<text x="91" y="889" font-size="10.500" font-weight="bold" textLength="136" lengthAdjust="spacingAndGlyphs">AQUEOUS HOBBY COLOUR</text>
<rect x="264" y="880" width="13" height="11" fill="#000"/><text class="b" x="270.500" y="889" style="font-size:8px">X</text>
<text x="287" y="889" font-size="10.500" font-weight="bold" textLength="55" lengthAdjust="spacingAndGlyphs">MR COLOUR</text>
<text x="30" y="921" font-size="19" font-weight="bold" textLength="290" lengthAdjust="spacingAndGlyphs">06717 1/700 HMS Nelson 1944</text>
</svg>
</body></html>
